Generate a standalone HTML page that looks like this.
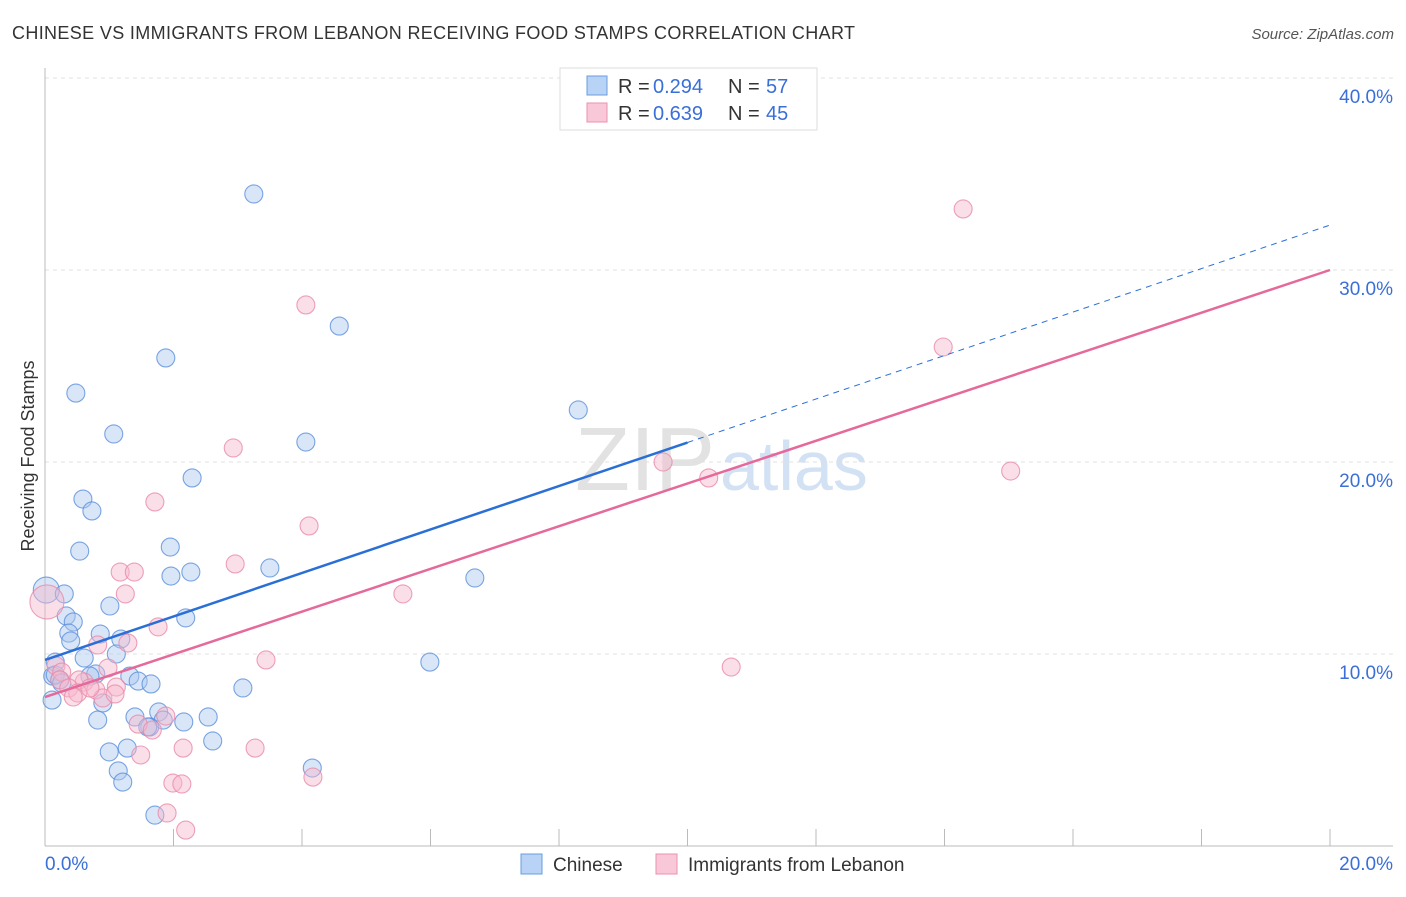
<!DOCTYPE html>
<html><head><meta charset="utf-8"><style>
body{margin:0;background:#fff;font-family:"Liberation Sans",sans-serif}
svg text{font-family:"Liberation Sans",sans-serif}
</style></head><body>
<svg width="1406" height="892" xmlns="http://www.w3.org/2000/svg">
<text x="12" y="39" font-size="18" fill="#333" textLength="843">CHINESE VS IMMIGRANTS FROM LEBANON RECEIVING FOOD STAMPS CORRELATION CHART</text>
<text x="1394" y="39" font-size="15" fill="#555" text-anchor="end" font-style="italic">Source: ZipAtlas.com</text>
<text x="34" y="456" font-size="18" fill="#333" text-anchor="middle" transform="rotate(-90 34 456)">Receiving Food Stamps</text>
<text x="715" y="490" font-size="90" fill="#e2e2e2" text-anchor="end" font-family="Liberation Serif">ZIP</text>
<text x="720" y="490" font-size="70" fill="#d3e1f4">atlas</text>
<g id="grid"></g>
<g id="axes"></g>
<g id="marks"></g>
<g>
<rect x="560" y="68" width="257" height="62" fill="#fff" stroke="#ddd"/>
<rect x="587" y="76" width="20" height="19" fill="#b8d3f5" stroke="#6a9ce0"/>
<rect x="587" y="103" width="20" height="19" fill="#f9c8d8" stroke="#ec90ae"/>
<text x="618" y="93" font-size="20" fill="#333">R = </text><text x="653" y="93" font-size="20" fill="#3a6fd8">0.294</text>
<text x="728" y="93" font-size="20" fill="#333">N = </text><text x="766" y="93" font-size="20" fill="#3a6fd8">57</text>
<text x="618" y="120" font-size="20" fill="#333">R = </text><text x="653" y="120" font-size="20" fill="#3a6fd8">0.639</text>
<text x="728" y="120" font-size="20" fill="#333">N = </text><text x="766" y="120" font-size="20" fill="#3a6fd8">45</text>
</g>
<g>
<rect x="521" y="854" width="21" height="20" fill="#b8d3f5" stroke="#6a9ce0"/>
<text x="553" y="871" font-size="19" fill="#333">Chinese</text>
<rect x="656" y="854" width="21" height="20" fill="#f9c8d8" stroke="#ec90ae"/>
<text x="688" y="871" font-size="19" fill="#333">Immigrants from Lebanon</text>
</g>
</svg>
<script>
const yTicks=[10,20,30,40];
const yTickLabels=["10.0%","20.0%","30.0%","40.0%"];
const xTickLabels=["0.0%","20.0%"];
const chineseX=[3.25,4.58,1.88,0.48,1.07,4.06,8.30,2.29,0.59,0.73,0.54,1.95,1.96,2.27,3.50,6.69,0.02,0.30,1.01,0.33,0.44,2.19,0.37,0.86,0.40,1.18,1.11,0.16,0.61,5.99,0.12,0.23,0.79,0.70,1.32,1.45,1.65,3.08,0.90,0.11,1.40,1.77,2.54,0.82,1.84,2.16,1.63,2.61,1.28,1.00,1.14,1.21,4.16,1.71,1.60,0.16,0.26];
const chineseY=[33.96,27.08,25.42,23.59,21.46,21.04,22.71,19.17,18.07,17.45,15.36,15.57,14.06,14.27,14.48,13.96,13.33,13.13,12.50,11.98,11.67,11.88,11.09,11.04,10.68,10.78,10.0,9.58,9.79,9.58,8.85,8.65,8.96,8.85,8.85,8.59,8.44,8.23,7.45,7.60,6.72,6.98,6.72,6.56,6.56,6.46,6.20,5.47,5.10,4.90,3.91,3.33,4.06,1.61,6.20,8.91,8.49];
const lebanonX=[14.29,4.06,13.98,2.93,9.62,10.33,15.03,1.71,4.11,2.96,1.17,1.39,5.57,1.25,1.76,1.29,0.82,3.44,10.68,0.17,0.26,0.23,0.61,0.53,0.98,0.37,0.51,0.79,1.11,0.90,1.45,1.88,1.67,0.03,2.15,3.27,1.49,1.99,2.13,4.17,1.90,2.19,0.70,0.44,1.09];
const lebanonY=[33.18,28.18,25.99,20.73,20.0,19.17,19.53,17.92,16.67,14.69,14.27,14.27,13.13,13.13,11.41,10.57,10.47,9.69,9.32,9.38,9.06,8.65,8.54,8.65,9.27,8.23,7.97,8.13,8.28,7.71,6.35,6.77,6.04,12.71,5.10,5.10,4.74,3.28,3.23,3.59,1.72,0.83,8.23,7.76,7.92];
const chineseTrend=[9.69,32.34];
const lebanonTrend=[7.76,30.0];
const NS="http://www.w3.org/2000/svg";
const X=v=>45+v/20*1285, Y=v=>846-v*19.2;
function mk(t,a,p){const e=document.createElementNS(NS,t);for(const k in a)e.setAttribute(k,a[k]);p.appendChild(e);return e;}
const grid=document.getElementById('grid'),axes=document.getElementById('axes'),marks=document.getElementById('marks');
yTicks.forEach((t,i)=>{
 const l=mk('line',{x1:45,x2:1393,y1:Y(t),y2:Y(t),stroke:'#e0e0e0','stroke-dasharray':'4,4'},grid);
 
 
 const tx=mk('text',{x:1393,y:Y(t)+25,'font-size':19,fill:'#3a6fd8','text-anchor':'end'},axes);
 tx.textContent=yTickLabels[i];
 
 
});
let ax=mk('line',{x1:45,x2:45,y1:68,y2:846,stroke:'#bbb'},axes);


ax=mk('line',{x1:45,x2:1393,y1:846,y2:846,stroke:'#bbb'},axes);


for(let i=1;i<=10;i++){const t=mk('line',{x1:X(i*2),x2:X(i*2),y1:829,y2:846,stroke:'#bbb'},axes);
 
 }
[[0,'start',45],[20,'end',1393]].forEach((d,i)=>{const t=mk('text',{x:d[2],y:870,'font-size':19,fill:'#3a6fd8','text-anchor':d[1]},axes);t.textContent=xTickLabels[i];
 
 });
function dots(xs,ys,fill,stroke,name){xs.forEach((x,i)=>{const big=(x<0.05&&ys[i]>12);const c=mk('circle',{cx:X(x),cy:Y(ys[i]),r:big?(name=='lebanon-point'?17:13):9,fill:fill,'fill-opacity':0.45,stroke:stroke,'stroke-opacity':0.8,'stroke-width':1.1},marks);
 
 });}
dots(chineseX,chineseY,'#aac8f0','#5a8fdc','chinese-point');
dots(lebanonX,lebanonY,'#f7b8cc','#e98aa9','lebanon-point');
const slope=(chineseTrend[1]-chineseTrend[0])/20;
let l=mk('line',{x1:X(0),y1:Y(chineseTrend[0]),x2:X(10),y2:Y(chineseTrend[0]+slope*10),stroke:'#2a6fd6','stroke-width':2.5},marks);


l=mk('line',{x1:X(10),y1:Y(chineseTrend[0]+slope*10),x2:X(20),y2:Y(chineseTrend[1]),stroke:'#2a6fd6','stroke-width':1,'stroke-dasharray':'6,5'},marks);


l=mk('line',{x1:X(0),y1:Y(lebanonTrend[0]),x2:X(20),y2:Y(lebanonTrend[1]),stroke:'#e5699a','stroke-width':2.5},marks);


</script>
</body></html>
